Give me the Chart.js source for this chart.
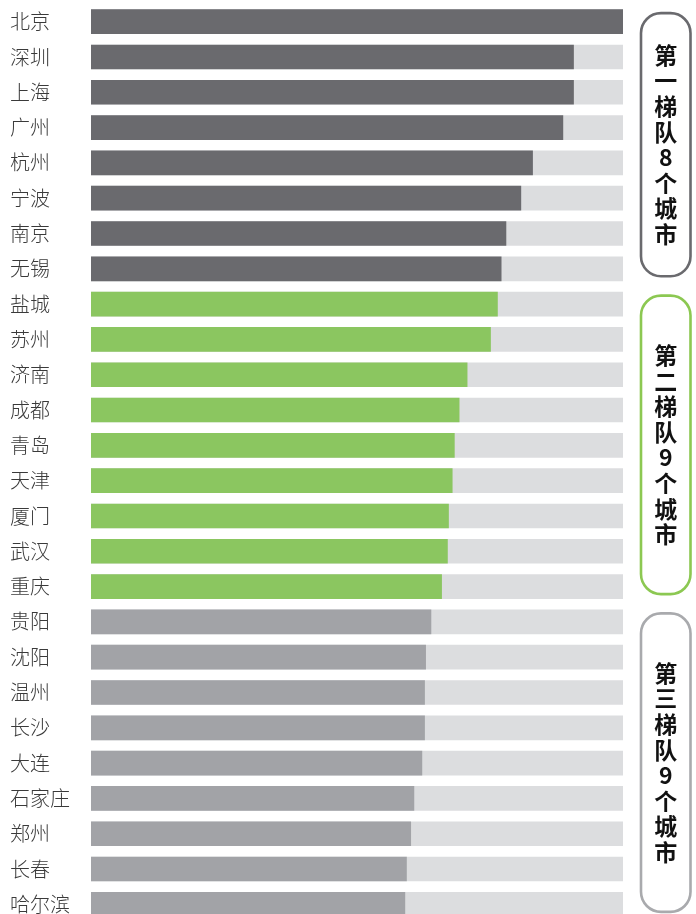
<!DOCTYPE html>
<html>
<head>
<meta charset="utf-8">
<script src="https://cdn.jsdelivr.net/npm/chart.js@4/dist/chart.umd.min.js"></script>
<style>
  html, body { margin: 0; padding: 0; background: #ffffff; overflow: hidden; }
  #wrap { position: relative; width: 696px; height: 923px; }
</style>
</head>
<body>
<div id="wrap"><canvas id="c"></canvas></div>
<script>
// City scores (full mark = 100), grouped into three tiers
const cities = ['北京','深圳','上海','广州','杭州','宁波','南京','无锡',
                '盐城','苏州','济南','成都','青岛','天津','厦门','武汉','重庆',
                '贵阳','沈阳','温州','长沙','大连','石家庄','郑州','长春','哈尔滨'];
const scores = [100, 90.7, 90.7, 88.7, 83.0, 80.8, 78.0, 77.1,
                76.4, 75.1, 70.7, 69.2, 68.3, 67.9, 67.2, 67.0, 65.9,
                63.9, 62.9, 62.7, 62.7, 62.2, 60.7, 60.1, 59.3, 59.0];
const fullMark = 100;
const tierSizes = [8, 9, 9];
const tierTitles = ['第一梯队8个城市', '第二梯队9个城市', '第三梯队9个城市'];

const tierFill = ['#6a6a6e', '#8bc660', '#a2a3a7'];
const tierBorder = ['#6a6a6e', '#8cc852', '#a9aaad'];
const trackColor = '#dcdddf';

// tier index of each city
const tierOf = [];
tierSizes.forEach((n, t) => { for (let i = 0; i < n; i++) tierOf.push(t); });

// rounded frames with vertical tier titles on the right
const tierBoxes = {
  id: 'tierBoxes',
  afterDraw(chart) {
    const ctx = chart.ctx;
    const y = chart.scales.y;
    let start = 0;
    ctx.save();
    tierSizes.forEach((n, t) => {
      const top = y.getPixelForValue(start) - 8.5;
      const bottom = y.getPixelForValue(start + n - 1) + 7.5;
      const left = 641, right = 690.5, r = 20;
      ctx.beginPath();
      ctx.roundRect(left, top, right - left, bottom - top, r);
      ctx.lineWidth = 2.6;
      ctx.strokeStyle = tierBorder[t];
      ctx.stroke();

      const chars = Array.from(tierTitles[t]);
      const step = 25.6;
      const cy = (top + bottom) / 2;
      const cx = (left + right) / 2;
      ctx.fillStyle = '#111111';
      ctx.font = 'bold 23px "Noto Sans CJK SC", sans-serif';
      ctx.textAlign = 'center';
      ctx.textBaseline = 'middle';
      chars.forEach((ch, k) => {
        ctx.fillText(ch, cx, cy + (k - (chars.length - 1) / 2) * step);
      });
      start += n;
    });
    ctx.restore();
  }
};

new Chart(document.getElementById('c'), {
  type: 'bar',
  data: {
    labels: cities,
    datasets: [
      {
        data: scores,
        backgroundColor: tierOf.map(t => tierFill[t]),
        barThickness: 24,
        grouped: false,
        order: 0
      },
      {
        data: cities.map(() => fullMark),
        backgroundColor: trackColor,
        barThickness: 24,
        grouped: false,
        order: 1
      }
    ]
  },
  options: {
    indexAxis: 'y',
    responsive: true,
    maintainAspectRatio: false,
    animation: false,
    layout: { padding: { left: 10, right: 73, top: 4, bottom: 0 } },
    plugins: { legend: { display: false }, tooltip: { enabled: false } },
    scales: {
      x: { display: false, min: 0, max: fullMark },
      y: {
        grid: { display: false },
        border: { display: false },
        afterFit(scale) { scale.width = 81; },
        ticks: {
          crossAlign: 'far',
          color: '#3a3a3a',
          padding: 0,
          font: { family: '"Noto Sans CJK SC", sans-serif', size: 20, weight: '300', lineHeight: 0.1 }
        }
      }
    }
  },
  plugins: [tierBoxes]
});
</script>
</body>
</html>
